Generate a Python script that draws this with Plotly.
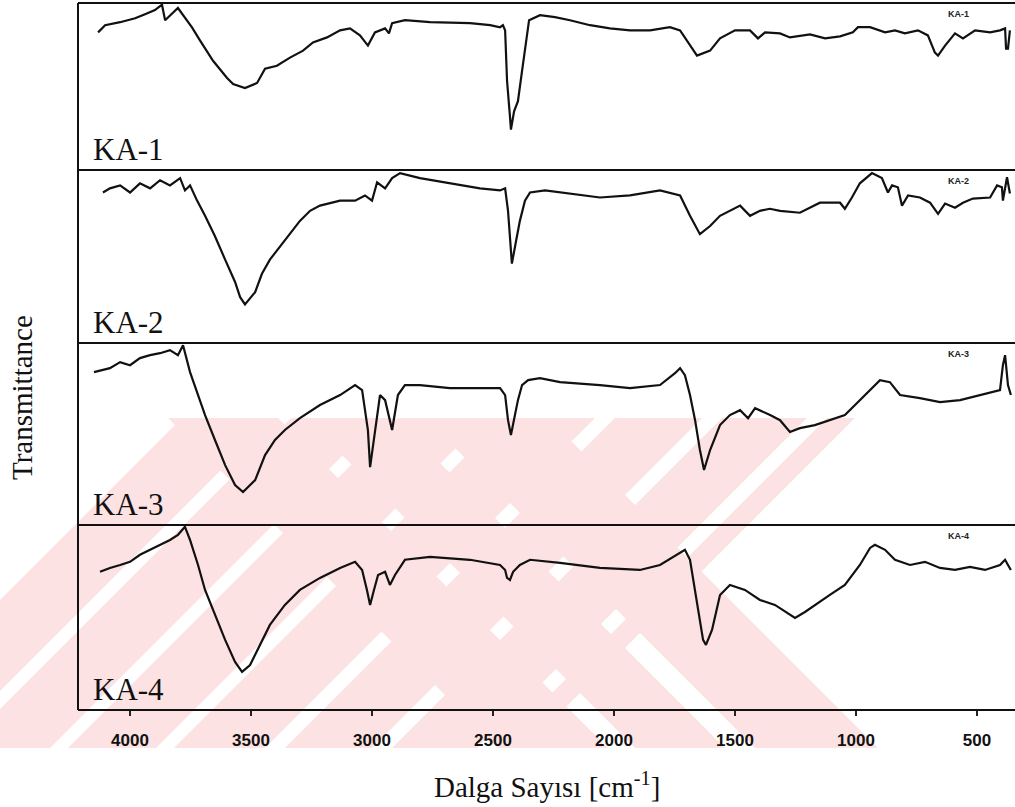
import plotly.graph_objects as go

# ---------------- data (wavenumber cm-1, relative transmittance %) ----------------
wn1 = [4132, 4103, 4041, 3979, 3938, 3897, 3868, 3855, 3802, 3744, 3711, 3657, 3599, 3574, 3525,
       3475, 3442, 3393, 3339, 3285, 3244, 3186, 3132, 3091, 3050, 3017, 2988, 2946, 2930, 2917,
       2864, 2760, 2595, 2512, 2471, 2459, 2450, 2442, 2430, 2426, 2413, 2397, 2380, 2364, 2351,
       2306, 2244, 2182, 2099, 2017, 1934, 1851, 1769, 1727, 1686, 1657, 1603, 1562, 1500, 1438,
       1405, 1376, 1314, 1273, 1190, 1128, 1066, 1013, 992, 942, 880, 839, 798, 744, 703, 674,
       661, 632, 591, 558, 508, 446, 405, 384, 380, 372, 364]
t1 = [82.4, 86.7, 88.5, 90.9, 93.3, 95.8, 99.0, 89.7, 97.0, 85.4, 77.6, 65.4, 55.1, 51.5, 49.1,
      52.1, 60.6, 62.4, 67.3, 71.5, 76.4, 79.4, 83.6, 84.8, 80.6, 74.5, 82.4, 84.8, 81.8, 87.9,
      89.7, 88.5, 87.9, 86.7, 85.5, 86.7, 83.6, 53.3, 32.1, 24.2, 35.1, 41.2, 59.4, 77.6, 89.7,
      92.7, 91.5, 89.7, 86.7, 84.8, 83.6, 83.6, 85.5, 83.6, 74.5, 68.5, 71.5, 78.8, 83.6, 83.6,
      78.8, 82.4, 81.8, 79.4, 81.2, 78.8, 80.0, 82.4, 85.5, 85.5, 82.4, 83.6, 81.8, 83.6, 80.6, 70.3,
      68.5, 74.5, 81.8, 78.8, 83.6, 82.4, 83.6, 84.8, 72.7, 72.7, 83.6]

wn2 = [4112, 4083, 4041, 4000, 3959, 3917, 3876, 3835, 3793, 3773, 3752, 3723, 3690, 3649, 3607,
       3566, 3545, 3525, 3483, 3455, 3422, 3380, 3339, 3298, 3256, 3215, 3132, 3070, 3029, 3000,
       2979, 2946, 2917, 2884, 2802, 2678, 2554, 2471, 2450, 2438, 2422, 2405, 2389, 2368, 2347,
       2285, 2182, 2058, 1934, 1810, 1727, 1686, 1645, 1603, 1562, 1521, 1479, 1438, 1397, 1356,
       1314, 1232, 1149, 1066, 1046, 1017, 984, 934, 893, 868, 851, 827, 810, 785, 736, 694, 661,
       632, 591, 558, 517, 446, 417, 397, 393, 376, 364]
t2 = [87.0, 89.4, 91.1, 87.0, 92.3, 89.4, 94.1, 91.1, 95.3, 88.2, 91.1, 82.3, 73.5, 61.7, 48.2,
      35.3, 26.5, 22.3, 29.4, 40.0, 48.2, 55.9, 63.5, 70.6, 76.4, 79.4, 82.3, 82.3, 85.3, 82.3,
      92.9, 89.4, 95.3, 98.2, 95.3, 92.3, 89.4, 88.2, 89.4, 76.4, 45.9, 58.8, 70.6, 82.3, 87.0,
      88.2, 86.4, 84.1, 85.3, 88.2, 85.3, 73.5, 62.9, 67.6, 73.5, 76.4, 79.4, 73.5, 76.4, 77.6,
      76.4, 75.3, 81.1, 81.1, 77.6, 84.1, 92.3, 98.2, 95.3, 87.0, 91.1, 90.0, 79.4, 85.3, 84.1, 81.1, 74.7,
      80.6, 78.2, 81.1, 83.5, 84.1, 91.1, 90.0, 82.3, 95.8, 86.4]

wn3 = [4149, 4083, 4041, 4000, 3959, 3917, 3876, 3835, 3802, 3781, 3752, 3719, 3690, 3649, 3607,
       3566, 3533, 3483, 3442, 3401, 3360, 3298, 3215, 3132, 3070, 3041, 3017, 3008, 2988, 2967,
       2946, 2917, 2893, 2864, 2802, 2678, 2554, 2471, 2450, 2438, 2426, 2413, 2397, 2380, 2355,
       2306, 2223, 2058, 1934, 1810, 1748, 1727, 1707, 1686, 1665, 1645, 1628, 1603, 1562, 1521,
       1479, 1446, 1417, 1355, 1314, 1273, 1232, 1170, 1108, 1046, 1004, 942, 901, 860, 818, 736,
       653, 570, 488, 405, 393, 384, 372, 360]
t3 = [84.0, 86.2, 89.5, 87.8, 91.7, 93.3, 94.4, 96.1, 93.3, 98.8, 84.0, 71.4, 60.4, 46.7, 32.9,
      22.0, 18.1, 24.7, 38.4, 46.7, 52.2, 58.7, 65.9, 71.4, 76.9, 74.1, 52.2, 31.8, 52.2, 71.4,
      68.6, 52.2, 71.4, 76.9, 76.9, 75.2, 75.2, 75.2, 71.4, 57.6, 49.4, 57.6, 68.6, 76.9, 79.6,
      80.7, 78.5, 76.9, 75.2, 76.9, 83.4, 86.2, 82.3, 71.4, 57.6, 41.2, 30.2, 41.2, 54.9, 60.4,
      63.1, 58.7, 64.2, 60.4, 57.6, 51.1, 53.2, 54.9, 57.6, 60.4, 65.9, 74.1, 79.6, 78.5, 71.4, 69.7,
      67.5, 68.6, 71.4, 74.1, 87.8, 93.3, 76.9, 71.4]

wn4 = [4124, 4083, 4041, 4000, 3959, 3917, 3876, 3835, 3802, 3773, 3752, 3719, 3690, 3649, 3607,
       3566, 3537, 3504, 3463, 3422, 3360, 3298, 3215, 3132, 3070, 3041, 3021, 3008, 2992, 2975,
       2946, 2926, 2905, 2864, 2760, 2595, 2471, 2450, 2442, 2430, 2417, 2389, 2347, 2223, 2058,
       1893, 1810, 1727, 1707, 1686, 1665, 1645, 1632, 1620, 1595, 1562, 1521, 1459, 1397, 1335,
       1273, 1252, 1211, 1170, 1108, 1046, 984, 942, 922, 880, 839, 777, 715, 653, 591, 529, 467,
       405, 384, 372, 360]
t4 = [74.7, 76.8, 78.4, 80.1, 83.9, 86.6, 89.3, 91.9, 94.7, 99.0, 91.9, 78.4, 64.9, 51.4, 37.9,
      26.0, 20.6, 24.3, 35.2, 46.0, 56.8, 64.9, 71.4, 76.8, 80.1, 75.7, 64.9, 56.8, 64.9, 73.0,
      74.7, 67.6, 73.0, 81.2, 82.8, 81.2, 78.4, 75.7, 71.4, 70.3, 74.7, 78.4, 81.2, 79.5, 76.8,
      75.7, 78.4, 84.9, 86.6, 81.2, 64.9, 48.7, 37.9, 35.2, 43.3, 62.2, 67.6, 64.9, 59.5, 56.8,
      51.4, 49.8, 53.0, 56.8, 62.2, 67.6, 78.4, 87.6, 89.3, 86.6, 81.2, 78.4, 80.1, 76.8, 75.7, 77.4, 75.7,
      78.4, 81.2, 78.4, 75.7]

labels = ["KA-1", "KA-2", "KA-3", "KA-4"]
tick_vals = [4000, 3500, 3000, 2500, 2000, 1500, 1000, 500]
x_range = [4215, 343]

# ---------------- layout geometry ----------------
W, H = 1015, 807
L, T, B = 78, 3, 710           # plot area left / top / bottom (px)
borders = [3, 170, 343, 525, 710]  # panel boundaries (px from top)
PH = B - T


def fy(p):
    return (B - p) / PH


def fx(p):
    return (p - L) / (W - L)


series = [(wn1, t1), (wn2, t2), (wn3, t3), (wn4, t4)]
fig = go.Figure()
yaxes_names = ["y", "y2", "y3", "y4"]
order = [3, 2, 1, 0]
for k, idx in enumerate(order):
    wn, tt = series[idx]
    fig.add_trace(go.Scatter(x=wn, y=tt, mode="lines", xaxis="x", yaxis=yaxes_names[k],
                             line=dict(color="#111111", width=2.2), showlegend=False,
                             hoverinfo="skip"))

layout_axes = {}
for k, idx in enumerate(order):
    top, bot = borders[idx], borders[idx + 1]
    name = "yaxis" if k == 0 else "yaxis%d" % (k + 1)
    ax = dict(domain=[fy(bot), fy(top)], range=[0, 100], visible=False, fixedrange=True)
    if k > 0:
        ax["anchor"] = "x"
    layout_axes[name] = ax

fig.update_layout(
    width=W, height=H,
    margin=dict(l=L, r=0, t=T, b=H - B, pad=0),
    paper_bgcolor="white", plot_bgcolor="rgba(0,0,0,0)",
    xaxis=dict(range=x_range, tickvals=tick_vals, ticks="outside", ticklen=5, tickwidth=1.5,
               tickcolor="#222", showline=False, showgrid=False, zeroline=False,
               tickfont=dict(family="Liberation Sans, Arial", size=17, color="#111", weight="bold"),
               ticklabelstandoff=10, anchor="y"),
    **layout_axes,
)

shapes = []
# ---- pale red background watermark (diagonal stripes, uniform colour) ----
WM_COLOR = "#fce2e2"
y_top, y_bot = 418, 748


def px_path(pts):
    return "M " + " L ".join("%.5f,%.5f" % (fx(a), fy(b)) for a, b in pts) + " Z"


slash_edges = [(600, 691), (709, 798), (816, 904), (922, 1013), (1033, 1120), (1140, 1225), (1245, 1273)]
for a, b in slash_edges:
    pts = [(a - y_bot, y_bot), (b - y_bot, y_bot), (b - y_top, y_top), (a - y_top, y_top)]
    shapes.append(dict(type="path", xref="paper", yref="paper", path=px_path(pts),
                       fillcolor=WM_COLOR, line=dict(width=0), layer="below"))
back_edges = [(-250, -140), (-113, -23), (7, 130)]
for a, b in back_edges:
    pts = [(a + y_bot, y_bot), (b + y_bot, y_bot), (b + y_top, y_top), (a + y_top, y_top)]
    shapes.append(dict(type="path", xref="paper", yref="paper", path=px_path(pts),
                       fillcolor=WM_COLOR, line=dict(width=0), layer="below"))

# ---- frame lines ----
for p in borders:
    shapes.append(dict(type="line", xref="paper", yref="paper", x0=0, x1=1.01, y0=fy(p), y1=fy(p),
                       line=dict(color="#111", width=2)))
shapes.append(dict(type="line", xref="paper", yref="paper", x0=0, x1=0, y0=0, y1=1,
                   line=dict(color="#111", width=2)))
fig.update_layout(shapes=shapes)

ann = []
for i, lab in enumerate(labels):
    bot = borders[i + 1]
    top = borders[i]
    ann.append(dict(text=lab, xref="paper", yref="paper", x=fx(91), y=fy(bot - 1),
                    xanchor="left", yanchor="bottom", showarrow=False,
                    font=dict(family="Liberation Serif, Times New Roman", size=31, color="#111")))
    ann.append(dict(text=lab, xref="paper", yref="paper", x=fx(958), y=fy(top + 11),
                    xanchor="center", yanchor="middle", showarrow=False,
                    font=dict(family="Liberation Sans, Arial", size=9, color="#222", weight="bold")))
ann.append(dict(text="Dalga Sayısı [cm<sup>-1</sup>]", xref="paper", yref="paper",
                x=fx(547), y=fy(785), xanchor="center", yanchor="middle", showarrow=False,
                font=dict(family="Liberation Serif, Times New Roman", size=29, color="#111")))
ann.append(dict(text="Transmittance", xref="paper", yref="paper", x=fx(22), y=fy(398),
                xanchor="center", yanchor="middle", textangle=-90, showarrow=False,
                font=dict(family="Liberation Serif, Times New Roman", size=29, color="#111")))
fig.update_layout(annotations=ann)

fig.write_html("out.html")
